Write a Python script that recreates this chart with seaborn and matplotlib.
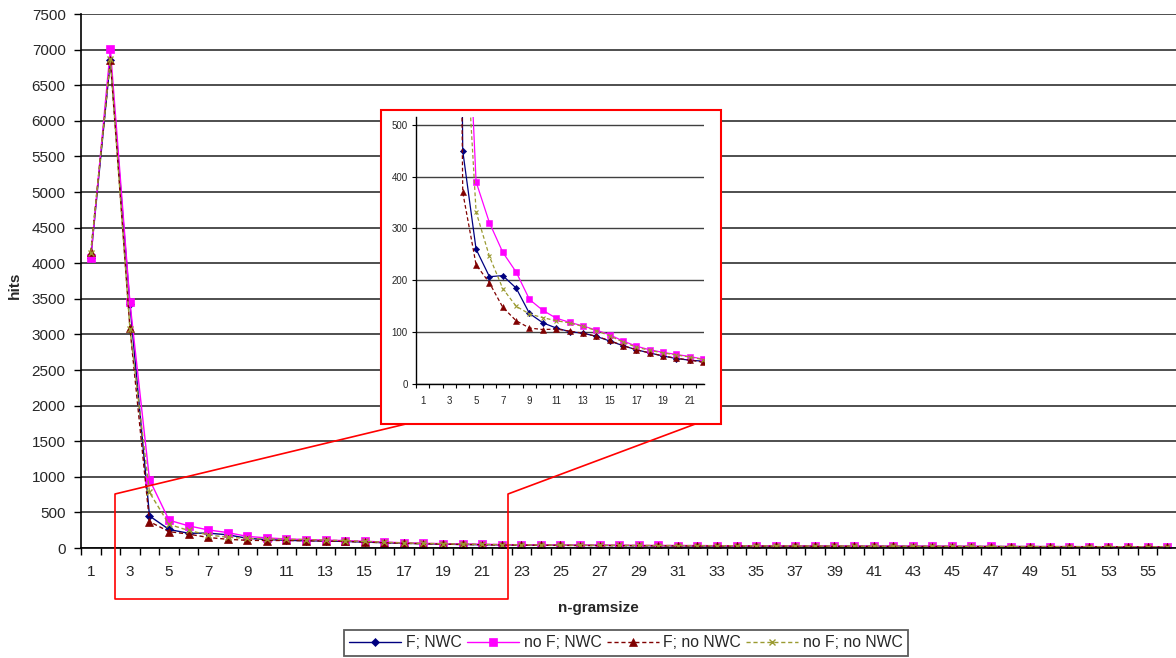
import numpy as np
import pandas as pd
import matplotlib
matplotlib.use("Agg")
import matplotlib.pyplot as plt
import seaborn as sns
from matplotlib.patches import Rectangle
from matplotlib.lines import Line2D
from matplotlib.ticker import FixedLocator, NullFormatter

sns.set_style("white")
plt.rcParams["font.family"] = ["Liberation Sans", "DejaVu Sans"]

ngram = list(range(1, 57))
f_nwc = [4080, 6860, 3420, 450, 260, 207, 209, 185, 136, 118, 108, 101, 98, 92, 83, 74, 66, 60, 54, 49, 46, 44,
         42, 40, 38, 37, 36, 35, 33, 32, 31, 30, 29, 28, 28, 27, 26, 26, 25, 24, 24, 23, 23, 22, 22, 21, 21, 20,
         20, 19, 19, 18, 18, 17, 17, 16]
nof_nwc = [4070, 7010, 3450, 960, 390, 311, 254, 216, 163, 142, 127, 119, 112, 104, 95, 83, 73, 66, 61, 57, 53, 48,
           46, 44, 42, 41, 40, 39, 37, 36, 35, 34, 33, 32, 31, 31, 30, 29, 29, 28, 27, 27, 26, 26, 25, 24, 22, 21,
           21, 20, 20, 19, 19, 18, 18, 17]
f_nonwc = [4160, 6850, 3090, 370, 230, 195, 148, 122, 108, 105, 106, 102, 98, 92, 84, 74, 66, 60, 54, 50, 46, 42,
           40, 38, 37, 35, 34, 33, 32, 30, 29, 28, 27, 27, 26, 25, 25, 24, 23, 23, 22, 22, 21, 21, 20, 20, 19, 19,
           18, 18, 17, 17, 16, 16, 15, 15]
nof_nonwc = [4150, 6870, 3080, 780, 332, 246, 184, 150, 135, 128, 122, 118, 111, 103, 93, 81, 71, 65, 60, 56, 52, 47,
             45, 43, 41, 40, 39, 38, 36, 35, 34, 33, 32, 31, 30, 30, 29, 28, 28, 27, 26, 26, 25, 25, 24, 23, 21, 20,
             20, 19, 19, 18, 18, 17, 17, 16]
series_names = ["F; NWC", "no F; NWC", "F; no NWC", "no F; no NWC"]
series_vals = [f_nwc, nof_nwc, f_nonwc, nof_nonwc]

styles = [
    dict(color="#000080", marker="D", linestyle="-", mfc="#000080", mec="#000080", ms_main=4.5, ms_in=3.2),
    dict(color="#FF00FF", marker="s", linestyle="-", mfc="#FF00FF", mec="#FF00FF", ms_main=6, ms_in=4.2),
    dict(color="#800000", marker="^", linestyle=(0, (3, 2)), mfc="#800000", mec="#800000", ms_main=6, ms_in=4.2),
    dict(color="#9A9A30", marker="x", linestyle=(0, (3, 2)), mfc="#9A9A30", mec="#9A9A30", ms_main=5, ms_in=3.5),
]

W, H = 1176, 658
fig = plt.figure(figsize=(W / 100, H / 100), dpi=100)

def fx(px):
    return px / W

def fy(py):
    return 1 - py / H

# main axes
ax = fig.add_axes([fx(81), fy(548), fx(1176) - fx(81), fy(14) - fy(548)])
ax.set_zorder(0)
handles = []
for name, vals, st in zip(series_names, series_vals, styles):
    n0 = len(ax.lines)
    sns.lineplot(x=ngram, y=vals, ax=ax, color=st["color"], marker=st["marker"], linestyle=st["linestyle"],
                 markersize=st["ms_main"], markerfacecolor=st["mfc"], markeredgecolor=st["mec"],
                 markeredgewidth=1.0 if st["marker"] == "x" else 0.5, linewidth=1.0, legend=False)
    handles.append(ax.lines[n0])

ax.set_xlim(0.5, 56.45)
ax.set_ylim(0, 7500)
ax.set_yticks(np.arange(0, 7501, 500))
ax.yaxis.grid(True, color="#404040", linewidth=1.3)
ax.xaxis.grid(False)
for s in ["top", "right"]:
    ax.spines[s].set_visible(False)
for s in ["left", "bottom"]:
    ax.spines[s].set_color("black")
    ax.spines[s].set_linewidth(1.2)
ax.xaxis.set_major_locator(FixedLocator(np.arange(0.5, 57, 1)))
ax.xaxis.set_major_formatter(NullFormatter())
ax.xaxis.set_minor_locator(FixedLocator(list(range(1, 57, 2))))
ax.set_xticklabels([str(i) for i in range(1, 57, 2)], minor=True)
ax.tick_params(axis="x", which="major", direction="out", length=5, width=1, color="black", bottom=True)
ax.tick_params(axis="x", which="minor", length=0, pad=12, labelsize=11, bottom=True)
ax.tick_params(axis="y", direction="out", length=5, width=1, color="black", pad=6, labelsize=11, left=True)
ax.set_xlabel("n-gramsize", fontsize=11, fontweight="bold")
ax.set_ylabel("hits", fontsize=11, fontweight="bold")
ax.xaxis.set_label_coords((598 - 81) / 1095, -(601 - 548) / 534)
ax.yaxis.set_label_coords((22 - 81) / 1095, (548 - 285) / 534)

# zoom indicator shape
poly_x = [410, 115, 115, 508, 508, 698]
poly_y = [423, 494, 599, 599, 494, 423]
fig.add_artist(Line2D([fx(p) for p in poly_x], [fy(p) for p in poly_y], color="#FF0000", linewidth=1.2,
                      zorder=1, transform=fig.transFigure))
# inset frame
fig.add_artist(Rectangle((fx(381), fy(424)), fx(721) - fx(381), fy(110) - fy(424), transform=fig.transFigure,
                         facecolor="white", edgecolor="#FF0000", linewidth=1.5, zorder=1))

# inset axes
axi = fig.add_axes([fx(416), fy(384), fx(704) - fx(416), fy(117) - fy(384)])
axi.set_zorder(2)
axi.patch.set_alpha(0)
for name, vals, st in zip(series_names, series_vals, styles):
    sns.lineplot(x=ngram, y=vals, ax=axi, color=st["color"], marker=st["marker"], linestyle=st["linestyle"],
                 markersize=st["ms_in"], markerfacecolor=st["mfc"], markeredgecolor=st["mec"],
                 markeredgewidth=0.8 if st["marker"] == "x" else 0.4, linewidth=0.9, legend=False)
axi.set_xlim(0.5, 22.07)
axi.set_ylim(0, 515)
axi.set_yticks(np.arange(0, 501, 100))
axi.yaxis.grid(True, color="#404040", linewidth=1.0)
axi.xaxis.grid(False)
for s in ["top", "right"]:
    axi.spines[s].set_visible(False)
for s in ["left", "bottom"]:
    axi.spines[s].set_color("black")
    axi.spines[s].set_linewidth(1.0)
axi.xaxis.set_major_locator(FixedLocator(np.arange(0.5, 22.6, 1)))
axi.xaxis.set_major_formatter(NullFormatter())
axi.xaxis.set_minor_locator(FixedLocator(list(range(1, 22, 2))))
axi.set_xticklabels([str(i) for i in range(1, 22, 2)], minor=True)
axi.tick_params(axis="x", which="major", direction="out", length=3, width=0.8, color="black", bottom=True)
axi.tick_params(axis="x", which="minor", length=0, pad=9, labelsize=7, bottom=True)
axi.tick_params(axis="y", direction="out", length=3, width=0.8, color="black", pad=3, labelsize=7, left=True)
axi.set_xlabel("")
axi.set_ylabel("")

# legend
leg = fig.legend(handles, series_names, loc="upper center", bbox_to_anchor=(626 / W, fy(630)), ncol=4,
                 fontsize=11.3, frameon=True, fancybox=False, edgecolor="#333333", handlelength=3.3,
                 columnspacing=0.35, handletextpad=0.3, borderpad=0.35, numpoints=1, borderaxespad=0)
leg.get_frame().set_linewidth(1.3)

fig.savefig("out.png", dpi=100, facecolor="white")
